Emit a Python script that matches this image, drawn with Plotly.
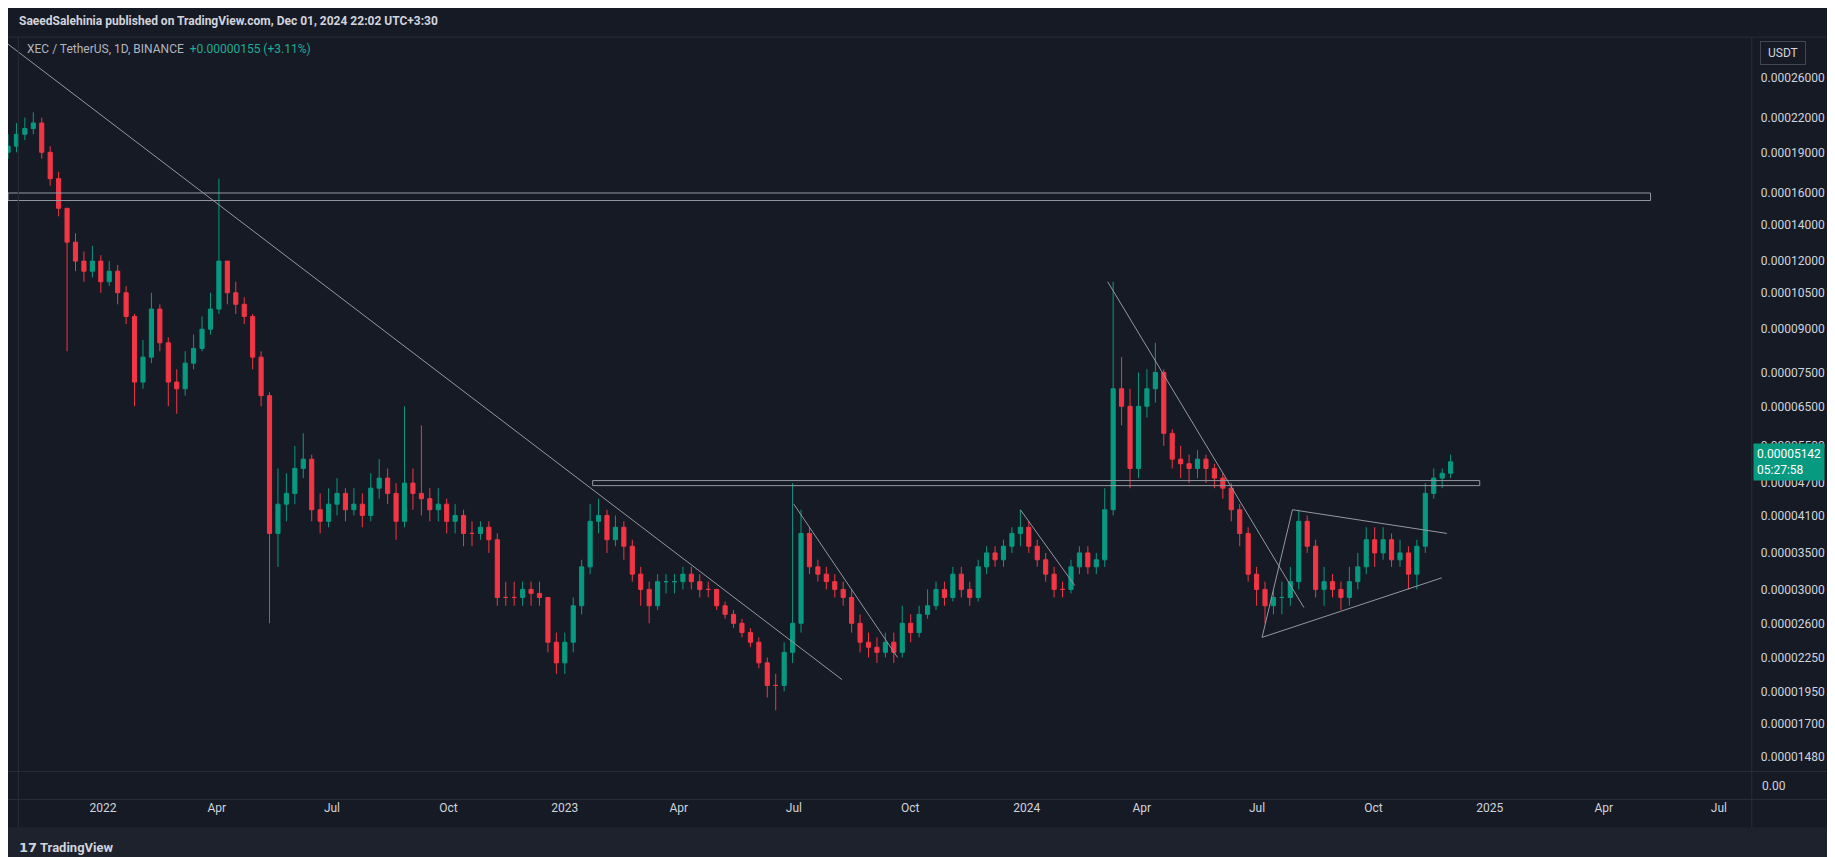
import plotly.graph_objects as go
import pandas as pd
import math

# candles (roughly weekly), values in units of 1e-5 USDT
close = [19.5,20.5,21,21.5,19,17,15,13,12,11.5,12,11,11.5,10.5,9.5,7.2,8,9.8,8.5,7.2,7,7.8,8.3,9,9.8,12,10.5,10,9.5,8,6.8,3.8,4.3,4.5,5,5.2,4.2,4,4.3,4.5,4.2,4.3,4.1,4.6,4.8,4.5,4,4.7,4.5,4.4,4.2,4.3,4,4.1,3.8,3.8,3.9,3.7,2.9,2.9,2.9,3,2.95,2.9,2.4,2.2,2.4,2.8,3.3,4,4.1,3.7,3.9,3.6,3.2,3,2.8,3.1,3.1,3.1,3.2,3.1,3,3,2.8,2.7,2.6,2.5,2.4,2.2,2,2.0,2.3,2.6,3.8,3.3,3.2,3.1,3,2.9,2.6,2.4,2.35,2.3,2.4,2.3,2.6,2.5,2.7,2.8,3,2.9,3.2,3,2.9,3.3,3.5,3.4,3.6,3.8,3.9,3.6,3.4,3.2,3,3,3.3,3.5,3.3,3.4,4.2,7,6.5,5,6.5,7,7.5,5.8,5.2,5.1,5,5.2,5,4.8,4.6,4.2,3.8,3.2,3,2.8,2.9,2.9,3.1,4,3.6,3,3.1,3,2.9,3.1,3.3,3.7,3.5,3.7,3.4,3.5,3.2,3.6,4.5,4.8,4.9,5.142]
high = [20.5,21.5,22,22.5,22,19.5,17.5,15,13.5,12.5,12.8,12.3,12,11.8,10.8,9.6,8.6,10.5,10,8.7,7.6,8.2,8.8,9.5,10.5,17,12,11,10.3,9.6,8.2,6.9,5,4.9,5.5,5.8,5.3,4.5,4.6,4.8,4.6,4.6,4.5,4.9,5.2,5,4.7,6.5,5,6,4.6,4.6,4.4,4.3,4.2,4,4,4,3.8,3.1,3.1,3.1,3.1,3.1,2.9,2.5,2.5,2.9,3.4,4.3,4.4,4.2,4.1,4,3.7,3.3,3.1,3.2,3.2,3.2,3.3,3.3,3.2,3.1,3,2.85,2.75,2.65,2.55,2.45,2.25,2.1,2.4,4.7,4.2,3.9,3.4,3.3,3.2,3.1,3,2.7,2.5,2.45,2.5,2.5,2.8,2.7,2.8,3,3.1,3.1,3.3,3.3,3.1,3.4,3.6,3.6,3.7,3.9,4.2,4,3.7,3.5,3.3,3.1,3.4,3.6,3.6,3.5,4.6,11,8,7,7.5,7.6,8.5,7.6,5.9,5.5,5.3,5.4,5.3,5.1,4.9,4.7,4.3,3.9,3.3,3.1,3,3.1,3.3,4.2,4.1,3.7,3.3,3.2,3.1,3.3,3.5,3.9,3.9,3.9,3.8,3.7,3.6,3.7,4.7,5,5,5.3]
low = [18.5,19,20,20.5,18.5,16.5,14.5,8.2,11.5,11,11.2,10.5,10.8,10,9.2,6.5,7,7.8,8.2,6.5,6.3,6.8,7.6,8.2,8.8,9.6,10,9.6,9.2,7.6,6.5,2.6,3.3,4,4.3,4.8,4,3.8,3.9,4.1,4,4.1,3.9,4,4.4,4.3,3.7,3.9,4.2,4.1,4,4,3.8,3.8,3.6,3.6,3.7,3.5,2.8,2.8,2.8,2.8,2.8,2.8,2.3,2.1,2.1,2.3,2.7,3.2,3.8,3.5,3.6,3.4,3.1,2.8,2.6,2.75,2.95,2.95,3,3,2.9,2.9,2.75,2.65,2.55,2.45,2.35,2.15,1.9,1.8,1.95,2.2,2.5,3.2,3.1,3,2.9,2.8,2.5,2.3,2.25,2.2,2.25,2.2,2.25,2.4,2.45,2.65,2.75,2.8,2.85,2.9,2.8,2.85,3.2,3.3,3.3,3.5,3.6,3.5,3.3,3.1,2.9,2.9,2.95,3.2,3.2,3.2,3.3,4.1,6,4.6,4.8,6.2,6.6,5.5,5,4.8,4.7,4.8,4.7,4.6,4.4,4,3.6,3.1,2.8,2.6,2.7,2.7,2.8,3,3.5,2.9,2.8,2.9,2.75,2.8,3,3.2,3.3,3.4,3.3,3.3,3,3,3.5,4.4,4.6,4.8]
open_ = [19.0] + close[:-1]

n = len(close)
dates = pd.date_range(start="2021-10-18", end="2024-12-01", periods=n)
sc = 1e-5
o = [v*sc for v in open_]; h = [v*sc for v in high]; l = [v*sc for v in low]; c = [v*sc for v in close]

ytick_vals = [0.00026,0.00022,0.00019,0.00016,0.00014,0.00012,0.000105,0.00009,0.000075,0.000065,0.000055,0.000047,0.000041,0.000035,0.00003,0.000026,0.0000225,0.0000195,0.000017,0.0000148]
ytick_text = ["%.8f" % v for v in ytick_vals]
xtick_dates = ["2022-01-01","2022-04-01","2022-07-01","2022-10-01","2023-01-01","2023-04-01","2023-07-01","2023-10-01","2024-01-01","2024-04-01","2024-07-01","2024-10-01","2025-01-01","2025-04-01","2025-07-01"]
xtick_text = ["2022","Apr","Jul","Oct","2023","Apr","Jul","Oct","2024","Apr","Jul","Oct","2025","Apr","Jul"]

# drawn trend lines (x0, y0, x1, y1)
trend_lines = [
    ("2021-10-18", 3.0e-4, "2023-08-08", 2.05e-5),
    ("2023-07-01", 4.3e-5, "2023-09-21", 2.25e-5),
    ("2023-12-27", 4.2e-5, "2024-02-08", 3.05e-5),
    ("2024-03-05", 1.1e-4, "2024-08-07", 2.78e-5),
    ("2024-07-29", 4.2e-5, "2024-11-28", 3.8e-5),
    ("2024-07-05", 2.45e-5, "2024-11-24", 3.15e-5),
    ("2024-07-05", 2.45e-5, "2024-07-29", 4.2e-5),
]
zones = [
    ("2021-10-18", 1.55e-4, "2025-05-08", 1.60e-4),
    ("2023-01-23", 4.65e-5, "2024-12-24", 4.75e-5),
]

BG = "#161a25"
UP = "#089981"; DN = "#f23645"
fig = go.Figure()
fig.add_trace(go.Candlestick(x=dates, open=o, high=h, low=l, close=c,
    increasing=dict(line=dict(color=UP, width=1), fillcolor=UP),
    decreasing=dict(line=dict(color=DN, width=1), fillcolor=DN),
    whiskerwidth=0, showlegend=False, xaxis="x", yaxis="y"))

shapes = []
for x0,y0,x1,y1 in trend_lines:
    shapes.append(dict(type="line", xref="x", yref="y", x0=x0, y0=y0, x1=x1, y1=y1, line=dict(color="#9598a1", width=1)))
for x0,y0,x1,y1 in zones:
    shapes.append(dict(type="rect", xref="x", yref="y", x0=x0, y0=y0, x1=x1, y1=y1, line=dict(color="#9598a1", width=1), fillcolor="rgba(0,0,0,0)"))
shapes += [
    dict(type="rect", xref="paper", yref="paper", x0=0, x1=1, y0=0, y1=0.044, fillcolor="#1e222d", line=dict(width=0), layer="below"),
    dict(type="line", xref="paper", yref="paper", x0=0.9503, x1=0.9503, y0=0.044, y1=0.966, line=dict(color="#2a2e39", width=1)),
    dict(type="line", xref="paper", yref="paper", x0=0, x1=1, y0=0.109, y1=0.109, line=dict(color="#2a2e39", width=1)),
    dict(type="line", xref="paper", yref="paper", x0=0, x1=1, y0=0.0765, y1=0.0765, line=dict(color="#2a2e39", width=1)),
    dict(type="line", xref="paper", yref="paper", x0=0, x1=1, y0=0.966, y1=0.966, line=dict(color="#2a2e39", width=1)),
    dict(type="line", xref="paper", yref="paper", x0=0.0056, x1=0.0056, y0=0.044, y1=0.966, line=dict(color="#2a2e39", width=1)),
]

ann = [
    dict(xref="paper", yref="paper", x=0.005, y=0.985, xanchor="left", yanchor="middle", showarrow=False,
         text="<b>SaeedSalehinia published on TradingView.com, Dec 01, 2024 22:02 UTC+3:30</b>", font=dict(color="#d1d4dc", size=12)),
    dict(xref="paper", yref="paper", x=0.009, y=0.952, xanchor="left", yanchor="middle", showarrow=False,
         text="XEC / TetherUS, 1D, BINANCE  <span style='color:#22ab94'>+0.00000155 (+3.11%)</span>", font=dict(color="#b2b5be", size=12)),
    dict(xref="paper", yref="paper", x=0.005, y=0.021, xanchor="left", yanchor="middle", showarrow=False,
         text="<b>𝟭𝟳 TradingView</b>", font=dict(color="#d1d4dc", size=13)),
    dict(xref="paper", yref="paper", x=0.955, y=0.948, xanchor="left", yanchor="middle", showarrow=False,
         text=" USDT ", font=dict(color="#d1d4dc", size=12), bordercolor="#434651", borderwidth=1, borderpad=4, bgcolor=BG),
    dict(xref="paper", yref="y", x=0.951, y=math.log10(5.142e-5), xanchor="left", yanchor="middle", showarrow=False,
         text="0.00005142<br>05:27:58", align="left", font=dict(color="white", size=12), bgcolor=UP, borderpad=3),
    dict(xref="paper", yref="paper", x=0.955, y=0.092, xanchor="left", yanchor="middle", showarrow=False,
         text="0.00", font=dict(color="#d1d4dc", size=12)),
]

fig.update_layout(
    width=1835, height=857, margin=dict(l=0, r=0, t=0, b=0),
    paper_bgcolor=BG, plot_bgcolor=BG, font=dict(family="Roboto, DejaVu Sans", color="#d1d4dc", size=12),
    shapes=shapes, annotations=ann,
    xaxis=dict(domain=[0, 0.9503], range=["2021-10-18", "2025-07-27"], anchor="y2",
               tickvals=xtick_dates, ticktext=xtick_text, showgrid=False, zeroline=False,
               rangeslider=dict(visible=False), ticks="", tickfont=dict(color="#d1d4dc", size=12)),
    yaxis=dict(domain=[0.109, 0.966], type="log", side="right", anchor="x",
               range=[math.log10(1.39e-5), math.log10(3.09e-4)],
               tickvals=ytick_vals, ticktext=ytick_text, showgrid=False, zeroline=False,
               tickfont=dict(color="#d1d4dc", size=12), ticks="", ticklabelstandoff=8),
    yaxis2=dict(domain=[0.0765, 0.109], side="right", showticklabels=False, showgrid=False, zeroline=False, anchor="x"),
)
fig.add_trace(go.Scatter(x=[dates[0]], y=[0], xaxis="x", yaxis="y2", mode="markers", marker=dict(opacity=0), showlegend=False, hoverinfo="skip"))
fig.write_html("out.html")
